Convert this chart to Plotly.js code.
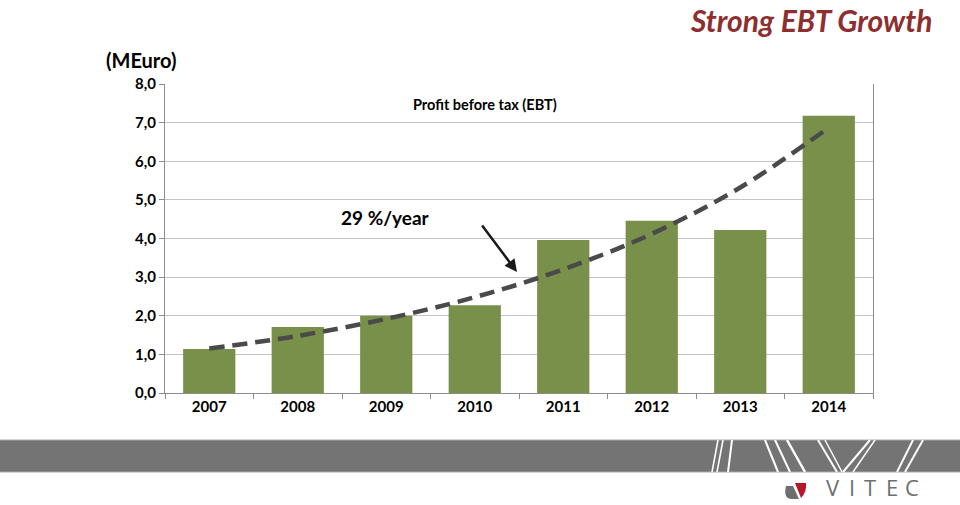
<!DOCTYPE html>
<html>
<head>
<meta charset="utf-8">
<script src="https://cdn.plot.ly/plotly-3.0.1.min.js"></script>
<style>html,body{margin:0;padding:0;background:#fff;}#chart{width:960px;height:505px;}</style>
</head>
<body>
<div id="chart"></div>
<script>
const years = ['2007','2008','2009','2010','2011','2012','2013','2014'];
const ebt = [1.14, 1.71, 2.0, 2.27, 3.96, 4.46, 4.22, 7.18];
const trend = [1.15, 1.48, 1.92, 2.48, 3.2, 4.12, 5.32, 6.87];
const yTicks = [0,1,2,3,4,5,6,7,8];

const L = 165, R = 873, T = 84, B = 393;
const W = 960, H = 505;
const px = x => (x - L) / (R - L);
const py = y => (B - y) / (B - T);

const font = 'Lato, "Open Sans", sans-serif';

const traces = [
  {type:'bar', x: years, y: ebt, marker:{color:'#78904A'}, hoverinfo:'skip'},
  {type:'scatter', mode:'lines', x: years, y: trend,
   line:{color:'#4a4a4a', width:4.5, dash:'15px,8px', shape:'spline'}, hoverinfo:'skip'}
];

const shapes = [
  {type:'rect', xref:'paper', yref:'paper', x0:px(-2), x1:px(W+2), y0:py(472), y1:py(440),
   fillcolor:'#747474', line:{color:'#a8a8a8', width:1}, layer:'below'}
];
// diagonal white stripes in the band: [bottomX, topX, width]
[[712,718,1.5],[717,723,1.5],[728,732,2],
 [778,765,2],[790,775,2],[805,787,2.5],
 [837,818,2],[842,825,1.5],[843,870,2],[853,875,1.5],
 [897,913,2],[905,923,2]].forEach(p=>{
  shapes.push({type:'line', xref:'paper', yref:'paper', x0:px(p[0]), y0:py(472), x1:px(p[1]), y1:py(440),
    line:{color:'#ffffff', width:p[2]}});
});
// logo leaf
shapes.push({type:'path', xref:'paper', yref:'paper',
  path:`M ${px(786)} ${py(486)} Q ${px(783)} ${py(499)} ${px(792)} ${py(499)} L ${px(799)} ${py(499)} L ${px(793)} ${py(486)} Z`,
  fillcolor:'#6d6e70', line:{width:0}});
shapes.push({type:'path', xref:'paper', yref:'paper',
  path:`M ${px(795)} ${py(483)} L ${px(806)} ${py(483)} Q ${px(807)} ${py(492)} ${px(801)} ${py(498)} Z`,
  fillcolor:'#b5182b', line:{width:0}});

const logoLetters = [['V',833],['I',852],['T',870],['E',892],['C',912]];

const annotations = [
  {xref:'paper', yref:'paper', x:px(934), y:py(0), xanchor:'right', yanchor:'top', showarrow:false,
   text:'<b><i>Strong EBT Growth</i></b>', font:{family:font, size:30, color:'#8E2F2F'}},
  {xref:'paper', yref:'paper', x:px(141), y:py(60), xanchor:'center', yanchor:'middle', showarrow:false,
   text:'<b>(MEuro)</b>', font:{family:font, size:20, color:'#000'}},
  {xref:'paper', yref:'paper', x:px(485), y:py(104), xanchor:'center', yanchor:'middle', showarrow:false,
   text:'<b>Profit before tax (EBT)</b>', font:{family:font, size:14.5, color:'#000'}},
  {xref:'paper', yref:'paper', x:px(385), y:py(217), xanchor:'center', yanchor:'middle', showarrow:false,
   text:'<b>29 %/year</b>', font:{family:font, size:19, color:'#000'}},
  {xref:'paper', yref:'paper', x:px(517), y:py(272), ax:-36, ay:-48, showarrow:true, text:'',
   arrowhead:2, arrowsize:1, arrowwidth:2.5, arrowcolor:'#1a1a1a'}
];
logoLetters.forEach(l=>{
  annotations.push({xref:'paper', yref:'paper', x:px(l[1]), y:py(504), xanchor:'center', yanchor:'bottom',
    showarrow:false, text:l[0], font:{family:'"Open Sans", sans-serif', size:22, color:'#6d6e70', weight:400}});
});

const layout = {
  width: W, height: H,
  margin:{l:L, r:W-R, t:T, b:H-B, pad:0},
  paper_bgcolor:'#fff', plot_bgcolor:'#fff',
  showlegend:false,
  bargap:0.41,
  separators:',.',
  xaxis:{type:'category', showgrid:false, showline:true, linecolor:'#8c8c8c', linewidth:1,
    ticks:'outside', tickson:'boundaries', ticklen:5, tickcolor:'#8c8c8c',
    tickfont:{family:font, size:15, color:'#000', weight:'bold'}, fixedrange:true},
  yaxis:{range:[0,8], tickvals:yTicks, tickformat:'.1f', showgrid:true, gridcolor:'#c4c4c4', gridwidth:1,
    showline:true, linecolor:'#8c8c8c', linewidth:1, mirror:true, ticks:'outside', ticklen:5, tickcolor:'#8c8c8c',
    zeroline:false, tickfont:{family:font, size:15, color:'#000', weight:'bold'}, fixedrange:true},
  shapes: shapes,
  annotations: annotations
};

Plotly.newPlot('chart', traces, layout, {displayModeBar:false, staticPlot:true});
</script>
</body>
</html>
